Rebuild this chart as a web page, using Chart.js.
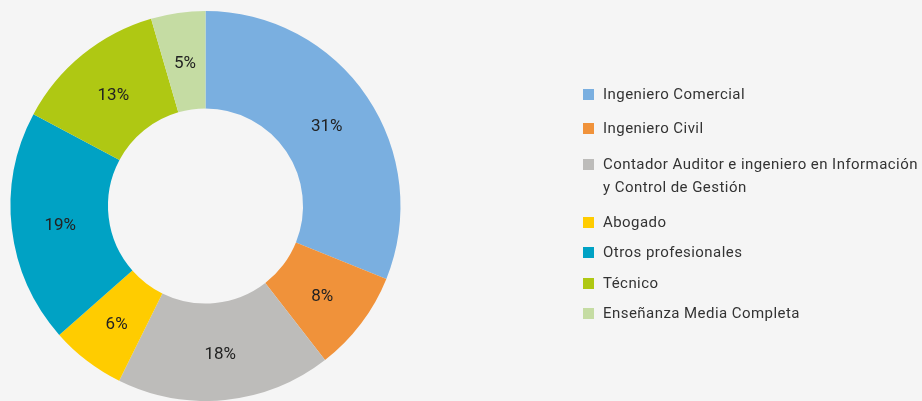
<!DOCTYPE html>
<html>
<head>
<meta charset="utf-8">
<script src="https://cdn.jsdelivr.net/npm/chart.js"></script>
<style>
  html, body { margin: 0; padding: 0; background: #f5f5f5; }
  #wrap { position: relative; width: 922px; height: 401px; }
  #legend { position: absolute; left: 583px; top: 83px; font-family: Roboto, sans-serif; font-size: 15px; color: #333; letter-spacing: 0.45px; }
  .item { position: relative; padding-left: 20px; line-height: 23px; }
  .box { position: absolute; left: 0; top: 6px; width: 11px; height: 11px; }
</style>
</head>
<body>
<div id="wrap">
  <canvas id="chart" width="922" height="401"></canvas>
  <div id="legend"></div>
</div>
<script>
// Data
const categories = [
  'Ingeniero Comercial',
  'Ingeniero Civil',
  ['Contador Auditor e ingeniero en Información', 'y Control de Gestión'],
  'Abogado',
  'Otros profesionales',
  'Técnico',
  'Enseñanza Media Completa'
];
const shares = [31.1, 8.4, 17.8, 6.2, 19.3, 12.7, 4.5];
const shareLabels = ['31%', '8%', '18%', '6%', '19%', '13%', '5%'];
const colors = ['#7aafe0', '#f0923a', '#bdbcba', '#ffcc00', '#00a2c4', '#afc813', '#c5dca3'];

// percent labels in the middle of each slice
const sliceLabels = {
  id: 'sliceLabels',
  afterDatasetsDraw(chart) {
    const ctx = chart.ctx;
    const meta = chart.getDatasetMeta(0);
    ctx.save();
    ctx.font = '17px Roboto, sans-serif';
    ctx.fillStyle = '#222';
    ctx.textAlign = 'center';
    ctx.textBaseline = 'middle';
    meta.data.forEach((arc, i) => {
      const p = arc.tooltipPosition();
      ctx.fillText(shareLabels[i], p.x, p.y + 3);
    });
    ctx.restore();
  }
};

new Chart(document.getElementById('chart'), {
  type: 'doughnut',
  data: {
    labels: categories,
    datasets: [{
      data: shares,
      backgroundColor: colors,
      borderWidth: 0
    }]
  },
  options: {
    responsive: false,
    animation: false,
    cutout: '50%',
    layout: { padding: { left: 10, right: 521, top: 11, bottom: 0 } },
    plugins: {
      legend: { display: false },
      tooltip: { enabled: false }
    }
  },
  plugins: [sliceLabels]
});

// HTML legend, gaps below each entry follow the original
const gaps = [11, 13, 12, 7, 8, 7, 0];
const legend = document.getElementById('legend');
categories.forEach((c, i) => {
  const div = document.createElement('div');
  div.className = 'item';
  div.style.marginBottom = gaps[i] + 'px';
  const box = document.createElement('span');
  box.className = 'box';
  box.style.background = colors[i];
  div.appendChild(box);
  const lines = Array.isArray(c) ? c : [c];
  lines.forEach((l, j) => {
    if (j) div.appendChild(document.createElement('br'));
    div.appendChild(document.createTextNode(l));
  });
  legend.appendChild(div);
});
</script>
</body>
</html>
